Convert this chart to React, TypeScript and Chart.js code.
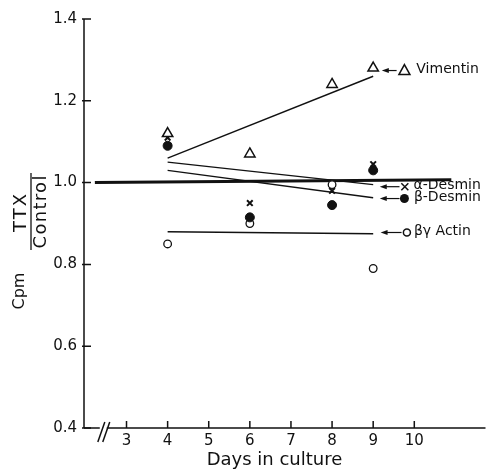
import React, { useEffect, useRef } from "react";
import { Chart, registerables } from "chart.js";

Chart.register(...registerables);

// ---- data ----
const days = [4, 6, 8, 9];
const vimentin = [1.12, 1.07, 1.24, 1.28];
const alphaDesmin = [1.11, 0.95, 0.98, 1.045];
const betaDesmin = [1.09, 0.915, 0.945, 1.03];
const actin = [0.85, 0.9, 0.995, 0.79];

const fitDays = [4, 9];
const vimentinFit = [1.06, 1.26];
const alphaFit = [1.05, 0.995];
const betaFit = [1.03, 0.963];
const actinFit = [0.88, 0.875];
const controlDays = [2.23, 10.9];
const controlLine = [1.0, 1.007];

const xTicks = [3, 4, 5, 6, 7, 8, 9, 10];
const yTicks = [0.4, 0.6, 0.8, 1.0, 1.2, 1.4];
const xTitle = "Days in culture";
const yTitleMain = "Cpm";
const yTitleNum = "TTX";
const yTitleDen = "Control";
const legendLabels = ["Vimentin", "α-Desmin", "β-Desmin", "βγ Actin"];
const legendMarkers = ["triangle", "cross", "dot", "circle"];

// ---- annotation layout (data coordinates) ----
const legendRowY = [1.274, 0.99, 0.961, 0.878];
const arrowTip = [9.21, 9.16, 9.16, 9.18];
const arrowTail = [9.57, 9.64, 9.64, 9.69];
const markerX = [9.76, 9.77, 9.76, 9.82];
const textX = [10.05, 9.98, 9.99, 9.99];

const INK = "#111";
const FONT = "'DejaVu Sans', sans-serif";

const pts = (xs: number[], ys: number[]) => xs.map((d, i) => ({ x: d, y: ys[i] }));

function drawMarker(ctx: CanvasRenderingContext2D, kind: string, cx: number, cy: number) {
  ctx.save();
  ctx.lineWidth = 1.5;
  ctx.strokeStyle = INK;
  ctx.fillStyle = INK;
  ctx.beginPath();
  if (kind === "triangle") {
    ctx.moveTo(cx, cy - 6);
    ctx.lineTo(cx + 5.5, cy + 4);
    ctx.lineTo(cx - 5.5, cy + 4);
    ctx.closePath();
    ctx.stroke();
  } else if (kind === "cross") {
    ctx.moveTo(cx - 3.5, cy - 3.5);
    ctx.lineTo(cx + 3.5, cy + 3.5);
    ctx.moveTo(cx + 3.5, cy - 3.5);
    ctx.lineTo(cx - 3.5, cy + 3.5);
    ctx.stroke();
  } else if (kind === "dot") {
    ctx.arc(cx, cy, 4.5, 0, Math.PI * 2);
    ctx.fill();
  } else {
    ctx.arc(cx, cy, 3.5, 0, Math.PI * 2);
    ctx.stroke();
  }
  ctx.restore();
}

const decorPlugin = {
  id: "decor",
  afterDraw(chart: any) {
    const { ctx, chartArea, scales } = chart;
    const { left, right, top, bottom } = chartArea;
    const x = scales.x;
    const y = scales.y;
    ctx.save();
    ctx.strokeStyle = INK;
    ctx.fillStyle = INK;
    ctx.lineWidth = 1.5;
    ctx.lineCap = "butt";

    // y axis
    ctx.beginPath();
    ctx.moveTo(left, top);
    ctx.lineTo(left, bottom);
    yTicks.forEach((v) => {
      const py = y.getPixelForValue(v);
      ctx.moveTo(left - 2, py);
      ctx.lineTo(left + 7, py);
    });
    ctx.stroke();

    // x axis with break
    const e1 = x.getPixelForValue(2.35);
    const s2 = x.getPixelForValue(2.52);
    ctx.beginPath();
    ctx.moveTo(left, bottom);
    ctx.lineTo(e1, bottom);
    ctx.moveTo(s2, bottom);
    ctx.lineTo(right, bottom);
    xTicks.forEach((v) => {
      const px = x.getPixelForValue(v);
      ctx.moveTo(px, bottom);
      ctx.lineTo(px, bottom - 7);
    });
    ctx.stroke();
    [2.387, 2.507].forEach((d) => {
      const px = x.getPixelForValue(d);
      ctx.beginPath();
      ctx.moveTo(px - 3.5, bottom + 14);
      ctx.lineTo(px + 3.5, bottom - 6);
      ctx.stroke();
    });

    // x title
    ctx.font = `18px ${FONT}`;
    ctx.textAlign = "center";
    ctx.textBaseline = "middle";
    ctx.fillText(xTitle, x.getPixelForValue(6.6), 460);

    // y title (rotated fraction)
    ctx.save();
    ctx.translate(20, 291);
    ctx.rotate(-Math.PI / 2);
    ctx.font = `16px ${FONT}`;
    ctx.fillText(yTitleMain, 0, 0);
    ctx.restore();
    ctx.save();
    ctx.translate(21, 213);
    ctx.rotate(-Math.PI / 2);
    ctx.font = `18px ${FONT}`;
    (ctx as any).letterSpacing = "2px";
    ctx.fillText(yTitleNum, 1, 0);
    ctx.restore();
    ctx.save();
    ctx.translate(41, 212);
    ctx.rotate(-Math.PI / 2);
    ctx.font = `18px ${FONT}`;
    (ctx as any).letterSpacing = "1.3px";
    ctx.fillText(yTitleDen, 0.6, 0);
    ctx.restore();
    ctx.beginPath();
    ctx.lineWidth = 1.3;
    ctx.moveTo(31, 173);
    ctx.lineTo(31, 250);
    ctx.stroke();

    // legend annotations with arrows
    ctx.font = `14px ${FONT}`;
    ctx.textAlign = "left";
    ctx.textBaseline = "middle";
    legendLabels.forEach((label, i) => {
      const py = y.getPixelForValue(legendRowY[i]);
      const tip = x.getPixelForValue(arrowTip[i]);
      const tail = x.getPixelForValue(arrowTail[i]);
      ctx.lineWidth = 1.2;
      ctx.beginPath();
      ctx.moveTo(tip + 5, py);
      ctx.lineTo(tail, py);
      ctx.stroke();
      ctx.beginPath();
      ctx.moveTo(tip, py);
      ctx.lineTo(tip + 7, py - 2.5);
      ctx.lineTo(tip + 7, py + 2.5);
      ctx.closePath();
      ctx.fill();
      drawMarker(ctx, legendMarkers[i], x.getPixelForValue(markerX[i]), py);
      ctx.fillText(label, x.getPixelForValue(textX[i]), py - 1);
    });
    ctx.restore();
  },
};

export default function App() {
  const ref = useRef<HTMLCanvasElement | null>(null);
  useEffect(() => {
    document.body.style.margin = "0";
    if (!ref.current) return;
    const lineDs = (data: any[], width = 1.4) => ({
      type: "line" as const,
      data,
      showLine: true,
      borderColor: INK,
      borderWidth: width,
      pointRadius: 0,
      fill: false,
      tension: 0,
    });
    const chart = new Chart(ref.current, {
      type: "scatter",
      data: {
        datasets: [
          {
            data: pts(days, vimentin),
            pointStyle: "triangle",
            pointRadius: 6,
            pointBackgroundColor: "#fff",
            pointBorderColor: INK,
            pointBorderWidth: 1.5,
          },
          {
            data: pts(days, alphaDesmin),
            pointStyle: "crossRot",
            pointRadius: 4,
            pointBorderColor: INK,
            pointBorderWidth: 2,
          },
          {
            data: pts(days, betaDesmin),
            pointStyle: "circle",
            pointRadius: 4.5,
            pointBackgroundColor: INK,
            pointBorderColor: INK,
            pointBorderWidth: 1,
          },
          {
            data: pts(days, actin),
            pointStyle: "circle",
            pointRadius: 3.8,
            pointBackgroundColor: "#fff",
            pointBorderColor: INK,
            pointBorderWidth: 1.3,
          },
          lineDs(pts(fitDays, vimentinFit)),
          lineDs(pts(fitDays, alphaFit)),
          lineDs(pts(fitDays, betaFit)),
          lineDs(pts(fitDays, actinFit)),
          lineDs(pts(controlDays, controlLine), 3),
        ] as any,
      },
      options: {
        animation: false,
        responsive: false,
        devicePixelRatio: 1,
        layout: { padding: { top: 19, right: 3, left: 0, bottom: 0 } },
        plugins: { legend: { display: false }, tooltip: { enabled: false } },
        scales: {
          x: {
            type: "linear",
            min: 1.966,
            max: 11.732,
            grid: { display: false, drawTicks: false },
            border: { display: false },
            afterBuildTicks: (axis: any) => {
              axis.ticks = xTicks.map((v) => ({ value: v }));
            },
            afterFit: (axis: any) => {
              axis.height = 45;
            },
            ticks: {
              color: INK,
              font: { family: FONT, size: 15 },
              padding: 4,
              callback: (v: any) => String(v),
            },
          },
          y: {
            type: "linear",
            min: 0.4,
            max: 1.4,
            grid: { display: false, drawTicks: false },
            border: { display: false },
            afterBuildTicks: (axis: any) => {
              axis.ticks = yTicks.map((v) => ({ value: v }));
            },
            afterFit: (axis: any) => {
              axis.width = 84;
            },
            ticks: {
              color: INK,
              font: { family: FONT, size: 15 },
              padding: 7,
              callback: (v: any) => Number(v).toFixed(1),
            },
          },
        },
      },
      plugins: [decorPlugin],
    });
    return () => chart.destroy();
  }, []);
  return <canvas ref={ref} width={493} height={473} style={{ display: "block" }} />;
}
